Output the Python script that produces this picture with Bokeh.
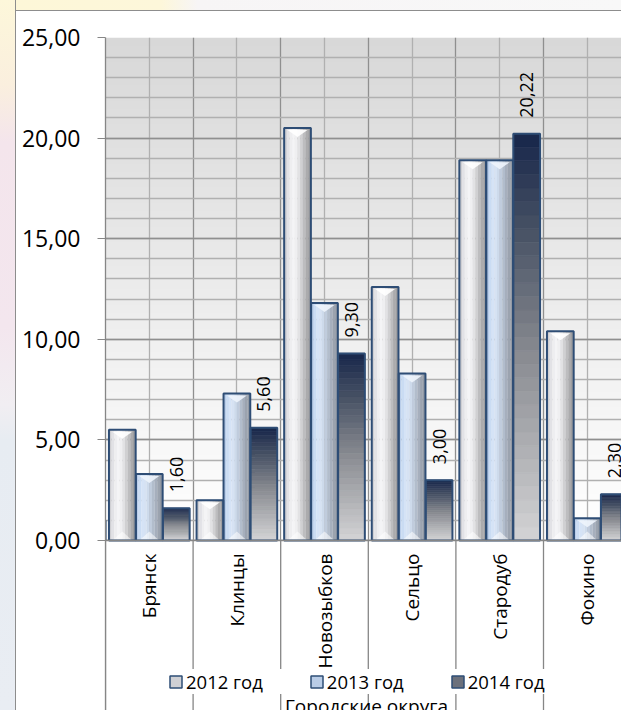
import math
import numpy as np
from bokeh.plotting import figure
from bokeh.layouts import row, column
from bokeh.models import (Range1d, FixedTicker, Legend, LegendItem, Label,
                          ColumnDataSource, Spacer, Span)
from bokeh.core.properties import value
from bokeh.embed import file_html
from bokeh.resources import INLINE

# ---------------- data ----------------
categories = ["Брянск", "Клинцы", "Новозыбков", "Сельцо", "Стародуб", "Фокино"]
series_names = ["2012 год", "2013 год", "2014 год"]
values_2012 = [5.5, 2.0, 20.5, 12.6, 18.9, 10.4]
values_2013 = [3.3, 7.3, 11.8, 8.3, 18.9, 1.1]
values_2014 = [1.60, 5.60, 9.30, 3.00, 20.22, 2.30]
y_ticks = [0, 5, 10, 15, 20, 25]
x_title = "Городские округа"

# ---------------- styling constants ----------------
FONT = "Open Sans"
BAR_W = 0.305
OFFSETS = [-0.308, 0.0, 0.308]
OUTLINE = "#2e4d75"
AXIS_GRAY = "#868686"
PX_X = 87.6   # px per category
PX_Y = 20.12  # px per y unit
FIG_W, FIG_H = 605, 699
BORDER_L, BORDER_T = 89, 26
Y_MIN = -(FIG_H - BORDER_T - 25 * PX_Y) / PX_Y
X_MIN = 0.5
X_MAX = X_MIN + (FIG_W - BORDER_L) / PX_X

cat_x = [i + 1 for i in range(len(categories))]
bounds = [c - 0.5 for c in cat_x] + [cat_x[-1] + 0.5]

p = figure(width=FIG_W, height=FIG_H,
           x_range=Range1d(X_MIN, X_MAX), y_range=Range1d(Y_MIN, 25),
           output_backend="svg", toolbar_location=None,
           min_border_left=BORDER_L, min_border_right=0, min_border_top=BORDER_T,
           min_border_bottom=0,
           background_fill_color="white", border_fill_color="white",
           outline_line_color=None)

# plot-area gradient background (0..25 only)
H = 64
img = np.empty((H, 1), dtype=np.uint32)
view = img.view(dtype=np.uint8).reshape((H, 1, 4))
for r in range(H):
    t = r / (H - 1)          # 0 bottom, 1 top
    c = int(round(255 - t * (255 - 216)))
    view[r, 0, 0] = c
    view[r, 0, 1] = c
    view[r, 0, 2] = c
    view[r, 0, 3] = 255
p.image_rgba(image=[img], x=X_MIN, y=0, dw=X_MAX - X_MIN, dh=25, level="image")

# grids
p.ygrid.ticker = FixedTicker(ticks=y_ticks, minor_ticks=list(range(0, 26)))
p.ygrid.grid_line_color = "#8f8f8f"
p.ygrid.grid_line_width = 1.3
p.ygrid.minor_grid_line_color = "#b0b0b0"
p.ygrid.minor_grid_line_width = 1.3
p.xgrid.ticker = FixedTicker(ticks=bounds, minor_ticks=cat_x)
p.xgrid.grid_line_color = "#8f8f8f"
p.xgrid.grid_line_width = 1.3
p.xgrid.minor_grid_line_color = "#b0b0b0"
p.xgrid.minor_grid_line_width = 1.3

# white category-label zone below the value axis
p.quad(left=[X_MIN], right=[X_MAX], bottom=[Y_MIN], top=[0],
       fill_color="white", line_color=None)

# ---------------- bars ----------------
def hex2rgb(h):
    h = h.lstrip("#")
    return [int(h[i:i + 2], 16) for i in (0, 2, 4)]

def rgb2hex(c):
    return "#%02x%02x%02x" % tuple(int(round(v)) for v in c)

def interp(stops, t):
    for k in range(len(stops) - 1):
        t0, c0 = stops[k]
        t1, c1 = stops[k + 1]
        if t <= t1:
            f = (t - t0) / (t1 - t0) if t1 > t0 else 0
            a, b = hex2rgb(c0), hex2rgb(c1)
            return rgb2hex([a[i] + (b[i] - a[i]) * f for i in range(3)])
    return stops[-1][1]

pal_2012 = ["#cfcfd3", "#e2e2e6", "#eeeef0", "#f4f4f6", "#efeff1",
            "#e2e2e4", "#d0d0d2", "#bdbdbf", "#ababad", "#9e9ea0"]
pal_2013 = ["#b9cde9", "#cadcf3", "#d5e3f6", "#d6e2f3", "#cddaeb",
            "#c0ccdd", "#b2bdcc", "#a6afbd", "#9ba3af", "#9299a4"]

def strip_bars(vals, off, pal):
    K = len(pal)
    sw = BAR_W / K
    for k, col in enumerate(pal):
        xs = [c + off - BAR_W / 2 + (k + 0.5) * sw for c in cat_x]
        p.vbar(x=xs, top=vals, bottom=0, width=sw * 1.05,
               fill_color=col, line_color=None)

strip_bars(values_2012, OFFSETS[0], pal_2012)
strip_bars(values_2013, OFFSETS[1], pal_2013)

# 2014: vertical gradient (dark navy top -> light gray bottom)
stops_2014 = [(0.0, "#d4d4d6"), (0.45, "#8a8c92"), (0.75, "#4a5466"), (1.0, "#17264a")]
N = 30
L, R, B, T, C = [], [], [], [], []
for c, v in zip(cat_x, values_2014):
    for j in range(N):
        L.append(c + OFFSETS[2] - BAR_W / 2)
        R.append(c + OFFSETS[2] + BAR_W / 2)
        B.append(v * j / N)
        T.append(v * (j + 1) / N)
        C.append(interp(stops_2014, (j + 0.5) / N))
p.quad(left="left", right="right", bottom="bottom", top="top",
       fill_color="color", line_color="color", line_width=0.6,
       source=ColumnDataSource(dict(left=L, right=R, bottom=B, top=T, color=C)))

# bevel triangles for 2012 / 2013
def bevels(vals, off, top_col, bot_col):
    xs_t, ys_t, xs_b, ys_b = [], [], [], []
    hw = 10 / PX_X
    for c, v in zip(cat_x, vals):
        cx = c + off
        d1 = 2 / PX_Y
        d2 = min(9 / PX_Y, v / 2)
        xs_t.append([cx - hw, cx + hw, cx])
        ys_t.append([v - d1, v - d1, v - d2])
        xs_b.append([cx - hw, cx + hw, cx])
        ys_b.append([0, 0, d2])
    p.patches(xs_t, ys_t, fill_color=top_col, fill_alpha=0.9, line_color=None)
    p.patches(xs_b, ys_b, fill_color=bot_col, fill_alpha=0.55, line_color=None)

bevels(values_2012, OFFSETS[0], "#ffffff", "#ffffff")
bevels(values_2013, OFFSETS[1], "#eef4fc", "#ffffff")

# outlines
for vals, off in zip([values_2012, values_2013, values_2014], OFFSETS):
    p.vbar(x=[c + off for c in cat_x], top=vals, bottom=0, width=BAR_W,
           fill_color=None, line_color=OUTLINE, line_width=2)

# data labels for 2014
lab_txt = [("%.2f" % v).replace(".", ",") for v in values_2014]
p.text(x=[c + OFFSETS[2] for c in cat_x], y=values_2014, text=lab_txt,
       angle=math.pi / 2, text_align="left", text_baseline="middle",
       y_offset=-16, text_font=value(FONT), text_font_size="18px",
       text_color="#000000")

# ---------------- axes ----------------
p.yaxis.ticker = FixedTicker(ticks=y_ticks, minor_ticks=[])
p.yaxis.major_label_overrides = {t: ("%.2f" % t).replace(".", ",") for t in y_ticks}
p.yaxis.major_label_text_font = FONT
p.yaxis.major_label_text_font_size = "23px"
p.yaxis.major_label_text_color = "#000000"
p.yaxis.major_label_standoff = 17
p.yaxis.major_tick_out = 8
p.yaxis.major_tick_in = 0
p.yaxis.minor_tick_line_color = None
p.yaxis.axis_line_color = AXIS_GRAY
p.yaxis.axis_line_width = 1.3
p.yaxis.major_tick_line_color = AXIS_GRAY

# category axis: baseline, separators and rotated category names
p.xaxis.visible = False
p.add_layout(Span(location=0, dimension="width", line_color=AXIS_GRAY,
                  line_width=1.3))
p.segment(x0=bounds, y0=[0] * len(bounds), x1=bounds, y1=[Y_MIN] * len(bounds),
          line_color=AXIS_GRAY, line_width=1.3)
p.text(x=cat_x, y=[0] * len(cat_x), text=categories, angle=math.pi / 2,
       text_align="right", text_baseline="middle", y_offset=13,
       text_font=value(FONT), text_font_size="19px", text_color="#000000")

# ---------------- title & legend ----------------
p.add_layout(Label(x=X_MIN + 261 / PX_X, y=-165 / PX_Y,
                   text=x_title, text_align="center", text_baseline="alphabetic",
                   text_font=FONT, text_font_size="19px", text_color="#000000"))

leg_fill = ["#cfd0d4", "#b9cce6", "#6c717c"]
items = []
for name, fc in zip(series_names, leg_fill):
    r = p.vbar(x=[X_MIN - 5], top=[1], width=0.3, fill_color=fc,
               line_color=OUTLINE, line_width=1.5)
    items.append(LegendItem(label=name, renderers=[r]))
legend = Legend(items=items, orientation="horizontal", location=(63, 16),
                label_text_font=FONT, label_text_font_size="18.5px",
                label_text_color="#000000", glyph_width=15, glyph_height=15,
                label_standoff=3, spacing=46, padding=10, margin=0,
                border_line_color=None, background_fill_color="white",
                background_fill_alpha=1.0)
p.add_layout(legend)

# ---------------- chart frame (outer strip + gray border) ----------------
pale_v = ("linear-gradient(#fdf7da 0%, #faefde 12%, #f4e5ec 20%, #f3e6ee 46%, "
          "#f1eef2 57%, #e7ecf2 62%, #e9edf3 100%)")
pale_h = "linear-gradient(to right, #fdf7d8 0%, #fdf7da 24%, #f7f5f6 30%, #f8f8f8 100%)"
left_strip = Spacer(width=15, height=FIG_H + 11, styles={"background": pale_v})
left_line = Spacer(width=1, height=FIG_H + 11, styles={"background-color": "#8d8d8d"})
top_strip = Spacer(width=FIG_W, height=10, styles={"background": pale_h})
top_line = Spacer(width=FIG_W, height=1, styles={"background-color": "#8d8d8d"})
layout = row(left_strip, left_line, column(top_strip, top_line, p))

open("out.html", "w").write(file_html(layout, INLINE))
